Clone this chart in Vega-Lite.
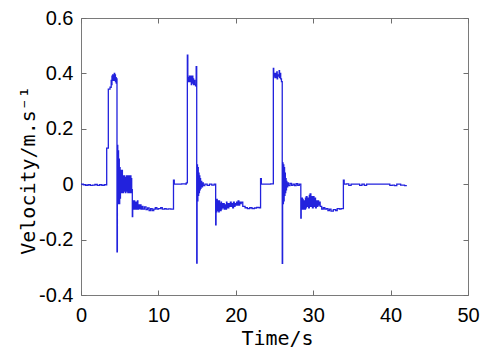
{
  "$schema": "https://vega.github.io/schema/vega-lite/v6.json",
  "width": 387,
  "height": 277,
  "autosize": "none",
  "padding": {"left": 81, "top": 18, "right": 26, "bottom": 57},
  "background": "white",
  "config": {
    "view": {"stroke": "#7a7a7a", "strokeWidth": 1},
    "axis": {
      "grid": false,
      "domain": false,
      "tickColor": "#6e6e6e",
      "tickWidth": 1,
      "tickSize": 5,
      "offset": -5,
      "labelFont": "Liberation Sans",
      "labelFontSize": 20,
      "labelColor": "#000000",
      "labelOverlap": false,
      "titleFont": "DejaVu Sans Mono",
      "titleFontSize": 20,
      "titleFontWeight": "normal",
      "titleColor": "#000000"
    }
  },
  "data": {"values": [
    {"t":0,"v":0},{"t":0.3,"v":-0.002},{"t":0.6,"v":-0.004},{"t":0.9,"v":-0.002},{"t":1.2,"v":-0.004},{"t":1.5,"v":-0.003},{"t":1.8,"v":-0.001},{"t":2.1,"v":-0.004},{"t":2.4,"v":-0.002},{"t":2.7,"v":-0.004},{"t":3.0,"v":-0.002},
    {"t":3.32,"v":0.13},{"t":3.53,"v":0.343},{"t":3.75,"v":0.35},{"t":3.9,"v":0.375},{"t":3.95,"v":0.36},{"t":4.0,"v":0.39},{"t":4.05,"v":0.375},{"t":4.1,"v":0.395},{"t":4.15,"v":0.38},{"t":4.2,"v":0.39},{"t":4.25,"v":0.375},{"t":4.3,"v":0.4},{"t":4.35,"v":0.38},{"t":4.4,"v":0.395},{"t":4.45,"v":0.37},{"t":4.5,"v":0.385},{"t":4.55,"v":0.365},{"t":4.6,"v":0.38},
    {"t":4.65,"v":-0.244},{"t":4.7,"v":0.14},{"t":4.75,"v":-0.07},{"t":4.8,"v":0.12},{"t":4.85,"v":-0.06},{"t":4.9,"v":0.09},{"t":4.95,"v":-0.07},{"t":5.0,"v":0.06},{"t":5.05,"v":-0.05},{"t":5.1,"v":0.05},{"t":5.15,"v":-0.03},{"t":5.2,"v":0.04},{"t":5.25,"v":-0.03},{"t":5.3,"v":0.05},{"t":5.35,"v":-0.02},{"t":5.4,"v":0.03},{"t":5.45,"v":-0.03},{"t":5.5,"v":0.02},{"t":5.55,"v":-0.025},{"t":5.6,"v":0.03},{"t":5.65,"v":-0.02},{"t":5.7,"v":0.025},{"t":5.75,"v":-0.03},{"t":5.8,"v":0.02},{"t":5.85,"v":-0.02},{"t":5.9,"v":0.03},{"t":5.95,"v":-0.025},{"t":6.0,"v":0.03},{"t":6.05,"v":-0.03},{"t":6.1,"v":0.03},{"t":6.15,"v":-0.02},{"t":6.2,"v":0.03},{"t":6.25,"v":-0.03},{"t":6.3,"v":0.03},{"t":6.35,"v":-0.02},{"t":6.4,"v":0.03},{"t":6.45,"v":-0.03},{"t":6.5,"v":0.02},{"t":6.55,"v":-0.02},
    {"t":6.63,"v":-0.117},{"t":6.68,"v":-0.06},{"t":6.73,"v":-0.09},{"t":6.78,"v":-0.065},{"t":6.83,"v":-0.085},{"t":6.88,"v":-0.06},{"t":6.93,"v":-0.09},{"t":6.98,"v":-0.07},{"t":7.03,"v":-0.085},{"t":7.1,"v":-0.065},{"t":7.15,"v":-0.09},{"t":7.2,"v":-0.07},{"t":7.25,"v":-0.085},{"t":7.3,"v":-0.06},{"t":7.35,"v":-0.09},{"t":7.45,"v":-0.075},{"t":7.55,"v":-0.088},{"t":7.65,"v":-0.075},{"t":7.75,"v":-0.09},{"t":7.85,"v":-0.08},{"t":8.0,"v":-0.09},{"t":8.2,"v":-0.082},{"t":8.4,"v":-0.092},{"t":8.6,"v":-0.086},{"t":8.8,"v":-0.095},{"t":9.0,"v":-0.088},{"t":9.2,"v":-0.095},{"t":9.4,"v":-0.09},{"t":9.6,"v":-0.085},{"t":9.8,"v":-0.09},{"t":10.0,"v":-0.088},{"t":10.3,"v":-0.085},{"t":10.5,"v":-0.09},{"t":10.8,"v":-0.088},{"t":11.0,"v":-0.09},{"t":11.3,"v":-0.089},{"t":11.6,"v":-0.09},
    {"t":11.95,"v":0.015},{"t":12.05,"v":0},{"t":12.5,"v":0},{"t":13.0,"v":0.001},{"t":13.5,"v":0},{"t":13.6,"v":0.005},
    {"t":13.74,"v":0.466},{"t":13.8,"v":0.37},{"t":13.9,"v":0.385},{"t":13.95,"v":0.37},{"t":14.0,"v":0.39},{"t":14.05,"v":0.375},{"t":14.1,"v":0.385},{"t":14.15,"v":0.37},{"t":14.2,"v":0.39},{"t":14.25,"v":0.36},{"t":14.3,"v":0.385},{"t":14.35,"v":0.37},{"t":14.4,"v":0.39},{"t":14.45,"v":0.365},{"t":14.5,"v":0.38},{"t":14.55,"v":0.36},{"t":14.6,"v":0.375},{"t":14.7,"v":0.36},{"t":14.8,"v":0.355},{"t":14.88,"v":0.424},
    {"t":14.95,"v":-0.285},{"t":15.0,"v":0.07},{"t":15.05,"v":-0.06},{"t":15.1,"v":0.06},{"t":15.15,"v":-0.04},{"t":15.2,"v":0.04},{"t":15.25,"v":-0.03},{"t":15.3,"v":0.03},{"t":15.35,"v":-0.02},{"t":15.4,"v":0.02},{"t":15.45,"v":-0.015},{"t":15.5,"v":0.01},{"t":15.6,"v":-0.01},{"t":15.7,"v":0.005},{"t":15.8,"v":-0.005},{"t":16.0,"v":0},{"t":16.3,"v":-0.004},{"t":16.6,"v":0},{"t":16.9,"v":-0.003},{"t":17.2,"v":0},
    {"t":17.4,"v":-0.147},{"t":17.45,"v":-0.06},{"t":17.5,"v":-0.1},{"t":17.55,"v":-0.055},{"t":17.6,"v":-0.095},{"t":17.65,"v":-0.06},{"t":17.7,"v":-0.09},{"t":17.75,"v":-0.065},{"t":17.8,"v":-0.1},{"t":17.85,"v":-0.06},{"t":17.9,"v":-0.09},{"t":17.95,"v":-0.07},{"t":18.0,"v":-0.095},{"t":18.1,"v":-0.065},{"t":18.15,"v":-0.09},{"t":18.2,"v":-0.07},{"t":18.3,"v":-0.085},{"t":18.4,"v":-0.07},{"t":18.5,"v":-0.09},{"t":18.6,"v":-0.075},{"t":18.7,"v":-0.09},{"t":18.8,"v":-0.065},{"t":18.85,"v":-0.085},{"t":18.9,"v":-0.07},{"t":19.0,"v":-0.085},{"t":19.1,"v":-0.07},{"t":19.2,"v":-0.08},{"t":19.3,"v":-0.065},{"t":19.4,"v":-0.08},{"t":19.5,"v":-0.07},{"t":19.6,"v":-0.085},{"t":19.7,"v":-0.065},{"t":19.8,"v":-0.08},{"t":19.9,"v":-0.07},{"t":20.0,"v":-0.075},{"t":20.1,"v":-0.065},{"t":20.2,"v":-0.075},{"t":20.3,"v":-0.06},{"t":20.4,"v":-0.075},{"t":20.5,"v":-0.065},{"t":20.6,"v":-0.07},{"t":20.7,"v":-0.065},{"t":20.9,"v":-0.08},{"t":21.2,"v":-0.085},{"t":21.5,"v":-0.088},{"t":21.8,"v":-0.085},{"t":22.1,"v":-0.088},{"t":22.4,"v":-0.086},{"t":22.7,"v":-0.084},{"t":23.0,"v":-0.085},
    {"t":23.2,"v":0.02},{"t":23.3,"v":0},{"t":24.0,"v":0},{"t":24.5,"v":0.001},
    {"t":24.85,"v":0.418},{"t":24.9,"v":0.39},{"t":25.0,"v":0.4},{"t":25.05,"v":0.385},{"t":25.1,"v":0.4},{"t":25.2,"v":0.385},{"t":25.3,"v":0.405},{"t":25.35,"v":0.38},{"t":25.4,"v":0.395},{"t":25.5,"v":0.39},{"t":25.6,"v":0.41},{"t":25.65,"v":0.385},{"t":25.7,"v":0.4},{"t":25.8,"v":0.38},{"t":25.9,"v":0.37},
    {"t":26.0,"v":-0.286},{"t":26.05,"v":0.077},{"t":26.1,"v":-0.07},{"t":26.15,"v":0.07},{"t":26.2,"v":-0.06},{"t":26.25,"v":0.06},{"t":26.3,"v":-0.04},{"t":26.35,"v":0.04},{"t":26.4,"v":-0.03},{"t":26.45,"v":0.02},{"t":26.5,"v":-0.02},{"t":26.55,"v":0.01},{"t":26.6,"v":-0.01},{"t":26.7,"v":0.005},{"t":26.8,"v":-0.005},{"t":27.0,"v":0.003},{"t":27.2,"v":-0.004},{"t":27.4,"v":0},{"t":27.6,"v":-0.005},{"t":27.8,"v":0.002},{"t":28.0,"v":-0.004},{"t":28.2,"v":0},
    {"t":28.4,"v":-0.122},{"t":28.45,"v":-0.05},{"t":28.5,"v":-0.09},{"t":28.55,"v":-0.05},{"t":28.6,"v":-0.085},{"t":28.65,"v":-0.055},{"t":28.7,"v":-0.09},{"t":28.8,"v":-0.06},{"t":28.9,"v":-0.09},{"t":29.0,"v":-0.05},{"t":29.05,"v":-0.085},{"t":29.1,"v":-0.045},{"t":29.2,"v":-0.08},{"t":29.3,"v":-0.05},{"t":29.4,"v":-0.085},{"t":29.5,"v":-0.04},{"t":29.55,"v":-0.08},{"t":29.6,"v":-0.035},{"t":29.7,"v":-0.08},{"t":29.8,"v":-0.045},{"t":29.9,"v":-0.085},{"t":30.0,"v":-0.045},{"t":30.1,"v":-0.08},{"t":30.2,"v":-0.05},{"t":30.3,"v":-0.085},{"t":30.4,"v":-0.06},{"t":30.5,"v":-0.08},{"t":30.6,"v":-0.06},{"t":30.7,"v":-0.075},{"t":30.8,"v":-0.065},{"t":30.9,"v":-0.08},{"t":31.1,"v":-0.09},{"t":31.3,"v":-0.085},{"t":31.5,"v":-0.09},{"t":31.7,"v":-0.088},{"t":31.9,"v":-0.095},{"t":32.1,"v":-0.09},{"t":32.3,"v":-0.097},{"t":32.6,"v":-0.092},{"t":32.9,"v":-0.095},{"t":33.1,"v":-0.088},{"t":33.4,"v":-0.09},{"t":33.6,"v":-0.088},
    {"t":33.9,"v":0.015},{"t":34.0,"v":0},{"t":34.3,"v":0.001},{"t":34.6,"v":-0.004},{"t":34.9,"v":0},{"t":35.5,"v":0},{"t":36.0,"v":-0.004},{"t":36.3,"v":0},{"t":36.6,"v":-0.004},{"t":36.9,"v":0},{"t":37.5,"v":0},{"t":38.0,"v":0},{"t":39.5,"v":0},{"t":39.9,"v":-0.004},{"t":40.2,"v":-0.003},{"t":40.5,"v":-0.005},{"t":40.8,"v":0},{"t":41.3,"v":-0.003},{"t":41.8,"v":-0.005},{"t":42.1,"v":-0.005}
  ]},
  "layer": [
    {
      "mark": {"type": "line", "interpolate": "step-after", "color": "#2222dd", "strokeWidth": 1.3},
      "encoding": {
        "x": {"field": "t", "type": "quantitative",
              "scale": {"domain": [0, 50], "nice": false},
              "axis": {"orient": "bottom", "values": [0, 10, 20, 30, 40, 50], "labelFlush": false,
                       "labelPadding": 10, "title": "Time/s", "titleX": 196, "titleY": 38, "titleBaseline": "top",
                       "labelExpr": "toString(datum.value)"}},
        "y": {"field": "v", "type": "quantitative",
              "scale": {"domain": [-0.4, 0.6], "nice": false, "zero": false},
              "axis": {"orient": "left", "values": [-0.4, -0.2, 0, 0.2, 0.4, 0.6], "labelPadding": 8,
                       "title": "Velocity/m.s⁻¹", "titleX": -58, "titleY": 152, "titleBaseline": "middle",
                       "labelExpr": "toString(datum.value)"}}
      }
    },
    {
      "mark": {"type": "line", "opacity": 0},
      "encoding": {
        "x": {"field": "t", "type": "quantitative",
              "axis": {"orient": "top", "values": [0, 10, 20, 30, 40, 50], "labels": false, "title": null}},
        "y": {"field": "v", "type": "quantitative",
              "axis": {"orient": "right", "values": [-0.4, -0.2, 0, 0.2, 0.4, 0.6], "labels": false, "title": null}}
      }
    }
  ],
  "resolve": {"axis": {"x": "independent", "y": "independent"}}
}
